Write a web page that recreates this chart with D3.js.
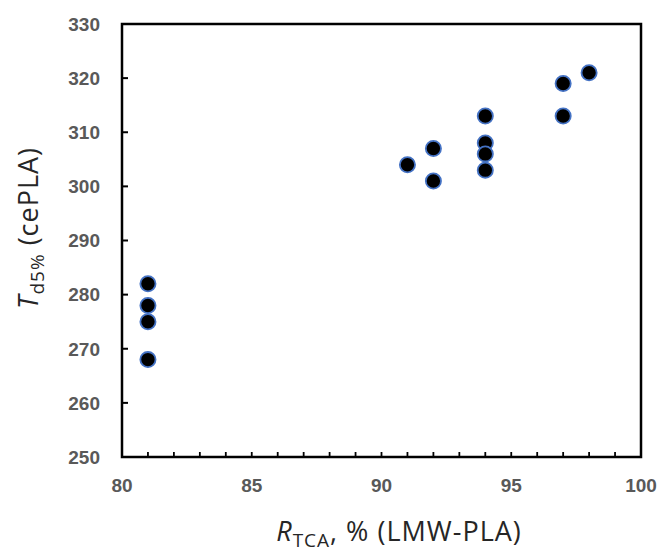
<!DOCTYPE html>
<html>
<head>
<meta charset="utf-8">
<script src="https://cdn.jsdelivr.net/npm/d3@7"></script>
<style>
  body { margin: 0; background: #fff; }
  .tick-label { font-family: "Liberation Sans", Arial, sans-serif; font-weight: bold; font-size: 19px; fill: #595959; }
  .axis-title { font-family: "Open Sans", sans-serif; font-size: 27px; letter-spacing: 1px; fill: #262626; }
</style>
</head>
<body>
<div id="chart"></div>
<script>
// R_TCA (%) of LMW-PLA vs Td5% of cePLA
const rTCA = [81, 81, 81, 81, 91, 92, 92, 94, 94, 94, 94, 97, 97, 98];
const td5 = [282, 278, 275, 268, 304, 307, 301, 313, 308, 306, 303, 319, 313, 321];
const xTicks = [80, 85, 90, 95, 100];
const yTicks = [250, 260, 270, 280, 290, 300, 310, 320, 330];

const width = 663, height = 552;
const margin = { top: 24, right: 22, bottom: 95, left: 122 };

const svg = d3.select("#chart")
    .append("svg")
    .attr("width", width)
    .attr("height", height);

const x = d3.scaleLinear().domain([80, 100]).range([margin.left, width - margin.right]);
const y = d3.scaleLinear().domain([250, 330]).range([height - margin.bottom, margin.top]);

// frame
svg.append("rect")
    .attr("x", x(80))
    .attr("y", y(330))
    .attr("width", x(100) - x(80))
    .attr("height", y(250) - y(330))
    .attr("fill", "none")
    .attr("stroke", "#000")
    .attr("stroke-width", 2.5);

// x ticks: every unit, inward
svg.append("g")
    .selectAll("line")
    .data(d3.range(81, 100))
    .join("line")
    .attr("x1", d => x(d))
    .attr("x2", d => x(d))
    .attr("y1", y(250))
    .attr("y2", y(250) - 5)
    .attr("stroke", "#000")
    .attr("stroke-width", 1.8);

svg.append("g")
    .selectAll("text")
    .data(xTicks)
    .join("text")
    .attr("class", "tick-label")
    .attr("x", d => x(d))
    .attr("y", y(250) + 35)
    .attr("text-anchor", "middle")
    .text(d => d);

// y ticks, inward
svg.append("g")
    .selectAll("line")
    .data(yTicks.slice(1, -1))
    .join("line")
    .attr("x1", x(80))
    .attr("x2", x(80) + 6)
    .attr("y1", d => y(d))
    .attr("y2", d => y(d))
    .attr("stroke", "#000")
    .attr("stroke-width", 2);

svg.append("g")
    .selectAll("text")
    .data(yTicks)
    .join("text")
    .attr("class", "tick-label")
    .attr("x", x(80) - 22)
    .attr("y", d => y(d))
    .attr("dy", "0.36em")
    .attr("text-anchor", "end")
    .text(d => d);

// points
svg.append("g")
    .selectAll("circle")
    .data(rTCA.map((r, i) => ({ r, t: td5[i] })))
    .join("circle")
    .attr("cx", d => x(d.r))
    .attr("cy", d => y(d.t))
    .attr("r", 7.6)
    .attr("fill", "#000")
    .attr("stroke", "#4472C4")
    .attr("stroke-width", 1.8);

// axis titles
const xt = svg.append("text")
    .attr("class", "axis-title")
    .attr("x", 399)
    .attr("y", 541)
    .attr("text-anchor", "middle");
xt.append("tspan").attr("font-style", "italic").text("R");
xt.append("tspan").attr("dy", 6).attr("font-size", "19px").text("TCA");
xt.append("tspan").attr("dy", -6).text(", % (LMW-PLA)");

const yt = svg.append("text")
    .attr("class", "axis-title")
    .attr("transform", "translate(38,228) rotate(-90)")
    .attr("text-anchor", "middle");
yt.append("tspan").attr("font-style", "italic").text("T");
yt.append("tspan").attr("dy", 6).attr("font-size", "19px").text("d5%");
yt.append("tspan").attr("dy", -6).text(" (cePLA)");
</script>
</body>
</html>
